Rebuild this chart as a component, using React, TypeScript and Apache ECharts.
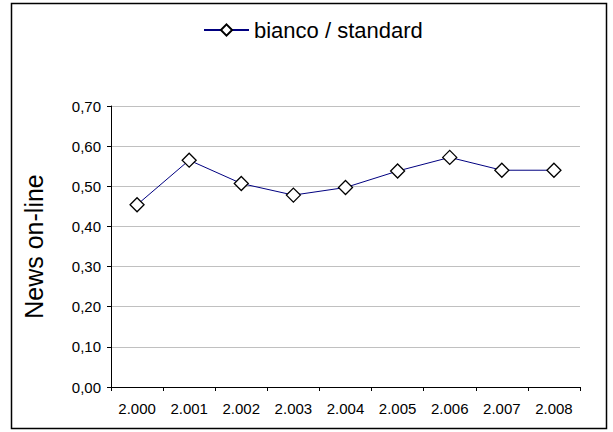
import React, { useEffect, useRef } from "react";
import * as echarts from "echarts";

const categories = ["2.000", "2.001", "2.002", "2.003", "2.004", "2.005", "2.006", "2.007", "2.008"];
const seriesName = "bianco / standard";
const values = [0.454, 0.565, 0.507, 0.478, 0.497, 0.538, 0.572, 0.54, 0.54];
const yAxisTitle = "News on-line";

export default function App() {
  const ref = useRef<HTMLDivElement>(null);
  useEffect(() => {
    const chart = echarts.init(ref.current!, null, { renderer: "svg" });
    const font = "'Liberation Sans', Arial, sans-serif";
    chart.setOption({
      animation: false,
      backgroundColor: "#ffffff",
      textStyle: { fontFamily: font },
      graphic: [
        {
          type: "rect",
          shape: { x: 11.5, y: 3.5, width: 595, height: 425 },
          style: { fill: "none", stroke: "#000000", lineWidth: 1.5 },
          silent: true,
        },
      ],
      legend: {
        top: 14,
        left: 198,
        itemWidth: 45,
        itemHeight: 14,
        itemGap: 10,
        textStyle: { fontSize: 22, color: "#000000", fontFamily: font },
        data: [seriesName],
      },
      grid: { left: 111, right: 33, top: 106, bottom: 45 },
      xAxis: {
        type: "category",
        data: categories,
        boundaryGap: true,
        axisLine: { lineStyle: { color: "#000000", width: 1 } },
        axisTick: { show: true, alignWithLabel: false, length: 4, lineStyle: { color: "#000000" } },
        axisLabel: { color: "#000000", fontSize: 15, margin: 14, fontFamily: font, interval: 0 },
        splitLine: { show: false },
      },
      yAxis: {
        type: "value",
        min: 0,
        max: 0.7,
        interval: 0.1,
        name: yAxisTitle,
        nameLocation: "middle",
        nameGap: 65,
        nameTextStyle: { fontSize: 25, color: "#000000", fontFamily: font },
        axisLine: { show: true, lineStyle: { color: "#000000", width: 1 } },
        axisTick: { show: true, length: 4, lineStyle: { color: "#000000" } },
        axisLabel: {
          color: "#000000",
          fontSize: 15,
          margin: 10,
          fontFamily: font,
          formatter: (v: number) => v.toFixed(2).replace(".", ","),
        },
        splitLine: { show: true, lineStyle: { color: "#c0c0c0", width: 1 } },
      },
      series: [
        {
          name: seriesName,
          type: "line",
          data: values,
          symbol: "diamond",
          symbolSize: 14,
          showAllSymbol: true,
          lineStyle: { color: "#000080", width: 1 },
          itemStyle: { color: "#ffffff", borderColor: "#000000", borderWidth: 1.3 },
          emphasis: { disabled: true },
        },
      ],
    });
    return () => chart.dispose();
  }, []);
  return (
    <div
      ref={ref}
      style={{ position: "fixed", left: 0, top: 0, width: 613, height: 432 }}
    />
  );
}
